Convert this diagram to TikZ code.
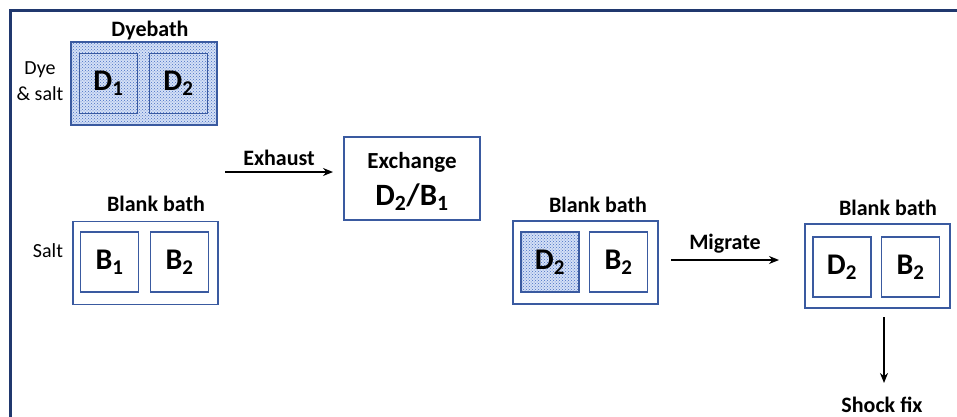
\documentclass[tikz,border=0pt]{standalone}
\usepackage{fontspec}
\setmainfont{Carlito}
\usetikzlibrary{arrows.meta,patterns}
\definecolor{framenavy}{RGB}{32,56,110}
\definecolor{boxblue}{RGB}{58,90,160}
\definecolor{dotblue}{RGB}{70,110,195}
\definecolor{dotbg}{RGB}{212,224,246}
\tikzset{
  bath/.style={draw=boxblue, line width=1.6pt, minimum width=145pt, minimum height=83pt, inner sep=0pt},
  cell/.style={draw=boxblue, line width=1.6pt, minimum width=58pt, minimum height=60pt, inner sep=0pt,
    font=\fontsize{30}{32}\selectfont\bfseries},
  dotted fill/.style={preaction={fill=dotbg}, preaction={pattern=crosshatch dots, pattern color=dotblue}},
  lbl/.style={font=\fontsize{22}{24}\selectfont\bfseries, inner sep=0pt},
  side/.style={font=\fontsize{20}{26}\selectfont, inner sep=0pt, align=center},
  arr/.style={-{Stealth[length=10pt,width=8pt]}, line width=1.6pt, black},
}
\begin{document}
\begin{tikzpicture}[x=1pt,y=-1pt]
\useasboundingbox (0,0) rectangle (957,417);
\fill[white] (0,0) rectangle (957,417);
% outer frame (left and top only visible)
\draw[framenavy, line width=2.6pt] (10.5,420) -- (10.5,10.5) -- (960,10.5);

% Dyebath
\node[bath, dotted fill, minimum width=146pt] (dyebath) at (144,83.5) {};
\node[cell, dotted fill] (d1) at (108.5,83.5) {D\textsubscript{1}};
\node[cell, dotted fill] (d2) at (178.5,83.5) {D\textsubscript{2}};
\node[lbl] (dyebathlbl) at (150,31) {Dyebath};
\node[side] (dyesalt) at (40,81) {Dye\\\& salt};

% Blank bath 1
\node[bath] (bb1) at (145.5,263) {};
\node[cell] (b1) at (109.5,262) {B\textsubscript{1}};
\node[cell] (b2) at (179.5,262) {B\textsubscript{2}};
\node[lbl] (bb1lbl) at (156,204) {Blank bath};
\node[side] (salt) at (48,251) {Salt};

% Exhaust arrow and exchange
\coordinate (exs) at (225,172);
\coordinate (exe) at (333,172);
\draw[arr] (exs) -- node[lbl, above=6pt] {Exhaust} (exe);
\node[draw=boxblue, line width=1.6pt, minimum width=136pt, minimum height=83pt, inner sep=0pt] (exch) at (412,178.5) {};
\node[lbl, font=\fontsize{23}{26}\selectfont\bfseries] (exchtxt) at (412,162) {Exchange};
\node[lbl, font=\fontsize{31}{34}\selectfont\bfseries] (exchsub) at (412,197) {D\textsubscript{2}/B\textsubscript{1}};

% Blank bath 2
\node[bath] (bb2) at (585.5,262.5) {};
\node[cell, dotted fill] (d2b) at (550,262) {D\textsubscript{2}};
\node[cell] (b2b) at (618.5,262) {B\textsubscript{2}};
\node[lbl] (bb2lbl) at (598,205) {Blank bath};

% Migrate arrow
\coordinate (ms) at (671,260);
\coordinate (me) at (779,260);
\draw[arr] (ms) -- node[lbl, above=6pt] {Migrate} (me);

% Blank bath 3
\node[bath, minimum height=84pt] (bb3) at (877.5,266) {};
\node[cell] (d2c) at (842,267) {D\textsubscript{2}};
\node[cell] (b2c) at (910.5,267) {B\textsubscript{2}};
\node[lbl] (bb3lbl) at (888,208) {Blank bath};

% Shock fix
\node[lbl] (shock) at (882,405) {Shock fix};
\coordinate (sfs) at (884,317);
\draw[arr] (sfs) -- (884,383);
\end{tikzpicture}
\end{document}
